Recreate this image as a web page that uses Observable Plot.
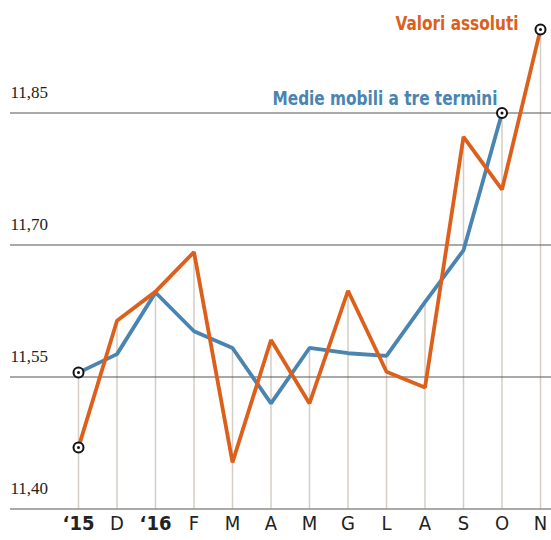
<!DOCTYPE html>
<html>
<head>
<meta charset="utf-8">
<script src="https://cdn.jsdelivr.net/npm/d3@7"></script>
<script src="https://cdn.jsdelivr.net/npm/@observablehq/plot@0.6"></script>
<style>
  html, body { margin: 0; padding: 0; background: #fff; }
  #chart svg { display: block; }
</style>
</head>
<body>
<div id="chart"></div>
<script>
// Month labels (Oct 2015 – Nov 2016)
const monthLabels = ["‘15", "D", "‘16", "F", "M", "A", "M", "G", "L", "A", "S", "O", "N"];
const boldLabels = ["‘15", "‘16"];
// Valori assoluti (orange)
const valoriAssoluti = [11.470, 11.614, 11.647, 11.692, 11.453, 11.592, 11.520, 11.648, 11.556, 11.538, 11.823, 11.763, 11.945];
// Medie mobili a tre termini (blue) – ends at O
const medieMobili = [11.555, 11.576, 11.646, 11.602, 11.583, 11.520, 11.583, 11.577, 11.574, 11.635, 11.694, 11.850];
// Y ticks
const yTicks = [11.40, 11.55, 11.70, 11.85];
const yTickLabels = ["11,40", "11,55", "11,70", "11,85"];
// Series titles
const titleValori = "Valori assoluti";
const titleMedie = "Medie mobili a tre termini";

const ORANGE = "#dc601c";
const BLUE = "#4a84b0";

const orangeData = valoriAssoluti.map((v, i) => ({i, v}));
const blueData = medieMobili.map((v, i) => ({i, v}));
const rulesData = monthLabels.map((lab, i) => ({
  i,
  top: Math.max(valoriAssoluti[i] ?? -Infinity, medieMobili[i] ?? -Infinity)
}));
const labelData = monthLabels.map((t, i) => ({i, t}));
const yLabelData = yTicks.map((v, k) => ({v, t: yTickLabels[k]}));
const markedPoints = [
  {i: 0, v: valoriAssoluti[0]},
  {i: 0, v: medieMobili[0]},
  {i: 11, v: medieMobili[11]},
  {i: 12, v: valoriAssoluti[12]}
];

const sansCond = "'DejaVu Sans Condensed', 'Roboto Condensed', Roboto, sans-serif";

const chart = Plot.plot({
  width: 551,
  height: 540,
  marginLeft: 10,
  marginRight: 0,
  marginTop: 0,
  marginBottom: 31,
  x: {type: "linear", domain: [0, 12], range: [78, 540], axis: null},
  y: {domain: [11.40, 11.85], range: [508.5, 112.5], axis: null},
  marks: [
    Plot.ruleX(rulesData, {x: "i", y1: 11.40, y2: "top", stroke: "#d5cec6", strokeWidth: 1.5}),
    Plot.ruleY(yTicks, {stroke: "#555", strokeWidth: 1.2}),
    Plot.text(yLabelData, {
      y: "v", text: "t", frameAnchor: "left", textAnchor: "start", dy: -20,
      fontFamily: "'Liberation Serif', 'DejaVu Serif', serif", fontSize: 17, fill: "#222"
    }),
    Plot.line(blueData, {x: "i", y: "v", stroke: BLUE, strokeWidth: 3.8, strokeLinejoin: "miter"}),
    Plot.line(orangeData, {x: "i", y: "v", stroke: ORANGE, strokeWidth: 3.8, strokeLinejoin: "miter"}),
    Plot.dot(markedPoints, {x: "i", y: "v", r: 5, fill: "white", stroke: "#111", strokeWidth: 2}),
    Plot.dot(markedPoints, {x: "i", y: "v", r: 1.5, fill: "#111", stroke: null}),
    Plot.text(labelData.filter(d => !boldLabels.includes(d.t)), {
      x: "i", text: "t", frameAnchor: "bottom", dy: 20,
      fontFamily: sansCond, fontSize: 20, fill: "#222"
    }),
    Plot.text(labelData.filter(d => boldLabels.includes(d.t)), {
      x: "i", text: "t", frameAnchor: "bottom", dy: 20,
      fontFamily: sansCond, fontSize: 20, fontWeight: "bold", fill: "#222"
    }),
    Plot.text([titleValori], {
      frameAnchor: "top-right", textAnchor: "end", dx: -33, dy: 15,
      fontFamily: sansCond, fontSize: 20, fontWeight: "bold", fill: ORANGE
    }),
    Plot.text([titleMedie], {
      frameAnchor: "top-right", textAnchor: "end", dx: -54, dy: 90,
      fontFamily: sansCond, fontSize: 20, fontWeight: "bold", fill: BLUE
    })
  ]
});
// Condense the title texts to the reference widths
d3.select(chart).selectAll("text").each(function() {
  const t = this.textContent;
  if (t === titleValori) {
    this.setAttribute("textLength", 123);
    this.setAttribute("lengthAdjust", "spacingAndGlyphs");
  } else if (t === titleMedie) {
    this.setAttribute("textLength", 225);
    this.setAttribute("lengthAdjust", "spacingAndGlyphs");
  }
});
document.getElementById("chart").appendChild(chart);
</script>
</body>
</html>
